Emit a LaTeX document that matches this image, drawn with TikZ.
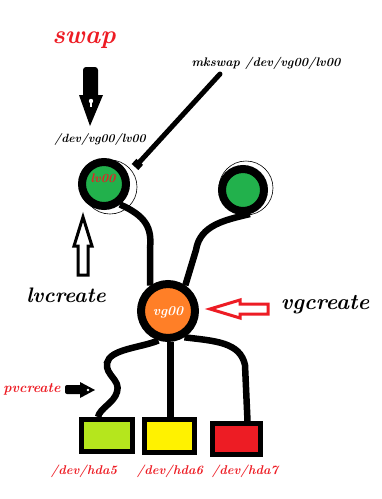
\documentclass[tikz,border=0pt]{standalone}
\usepackage{fontspec}
\setmainfont{Latin Modern Roman}
\usetikzlibrary{arrows.meta,calc}
\definecolor{pred}{HTML}{ED1C24}
\definecolor{pgreen}{HTML}{22B14C}
\definecolor{porange}{HTML}{FF7F27}
\definecolor{plime}{HTML}{B5E61D}
\definecolor{pyellow}{HTML}{FFF200}
\tikzset{
  ring/.style={circle,draw=black,line width=8pt,inner sep=0pt},
  halo/.style={draw=black,line width=0.6pt},
  disk/.style={draw=black,line width=5pt,inner sep=0pt},
  wire/.style={line width=6.5pt,draw=black},
  lbl/.style={font=\bfseries\itshape,inner sep=0pt},
}
\newcommand{\fsz}[1]{\fontsize{#1}{#1}\selectfont}
\begin{document}
\begin{tikzpicture}[x=1pt,y=-1pt]
\useasboundingbox (0,0) rectangle (381,499);
% halo circles
\draw[halo] (110,187) circle (27);
\draw[halo] (246,188) circle (27);
% nodes
\node[ring,fill=pgreen,minimum size=44pt] (lv) at (104,184) {};
\node[ring,fill=pgreen,minimum size=42pt] (rc) at (243,190) {};
\node[ring,fill=porange,minimum size=54pt] (vg) at (168,311) {};
\node[disk,fill=plime,minimum width=51pt,minimum height=32pt] (b1) at (107,435.5) {};
\node[disk,fill=pyellow,minimum width=50pt,minimum height=33pt] (b2) at (169.5,436) {};
\node[disk,fill=pred,minimum width=48pt,minimum height=31pt] (b3) at (236.5,439) {};
% connectors
\draw[wire] (lv.-52) .. controls (146,216) and (152,228) .. (150,248) -- (vg.125);
\draw[wire] (rc.-74) .. controls (225,220) and (200,225) .. (196,250) -- (vg.56);
\draw[wire] (vg.-108) .. controls (140,348) and (110,349) .. (107,363)
   .. controls (105,375) and (121,380) .. (117,392)
   .. controls (114,403) and (100,408) .. ($(b1.north)+(-9,0)$);
\draw[wire] (vg.-85) -- (vg.-85 |- b2.north);
\draw[wire] (vg.-58) .. controls (215,341) and (240,342) .. (245,365) -- ($(b3.north)+(11,0)$);
% labels in nodes
\node[lbl,text=pred] (lvt) at (103,178) {\fsz{12.4}lv00};
\node[lbl,text=white] (vgt) at (168,312) {\fsz{13.5}vg00};
% texts
\node[lbl,text=pred] (swap) at (84,40) {\fsz{26}swap};
\node[lbl] (devlv) at (100,140) {\fsz{11.9}/dev/vg00/lv00};
\node[lbl] (mk) at (266,63) {\fsz{12.4}mkswap /dev/vg00/lv00};
\node[lbl] (lvc) at (66,295) {\fsz{21}lvcreate};
\node[lbl] (vgc) at (325,305) {\fsz{22}vgcreate};
\node[lbl,text=pred] (pvc) at (32,389) {\fsz{14}pvcreate};
\node[lbl,text=pred] (h5) at (84,471) {\fsz{12.7}/dev/hda5};
\node[lbl,text=pred] (h6) at (170,471) {\fsz{12.7}/dev/hda6};
\node[lbl,text=pred] (h7) at (245,471) {\fsz{12.7}/dev/hda7};
% mkswap pointer
\coordinate (mkend) at (220,74);
\coordinate (mktip) at (135,167);
\draw[line width=5pt,line cap=round,-{Square[length=7pt,width=9pt]}] (mkend) -- (mktip);
% swap arrow
\fill[black,rounded corners=3pt] (83,67) rectangle (98,100);
\fill[black] (79,95) -- (103,95) -- (90,126) -- cycle;
\fill[white] (91,101) circle (2.2);
\draw[white,line width=1.6pt] (91,101) -- (91,107);
% lvcreate outline arrow
\draw[line width=3pt,fill=white,line join=miter] (83,217) -- (92,246) -- (88,246) -- (88,275) -- (78,275) -- (78,246) -- (74,246) -- cycle;
% vgcreate red arrow
\draw[pred,line width=3pt,fill=white,line join=miter] (210,309) -- (240,300) -- (240,304) -- (268,304) -- (268,314) -- (240,314) -- (240,318) -- cycle;
% pvcreate arrow
\fill[black,rounded corners=2pt] (65,385) rectangle (82,394);
\fill[black] (80,382) -- (95,390) -- (80,398) -- cycle;
\fill[white] (88,390) circle (1.3);
\end{tikzpicture}
\end{document}
